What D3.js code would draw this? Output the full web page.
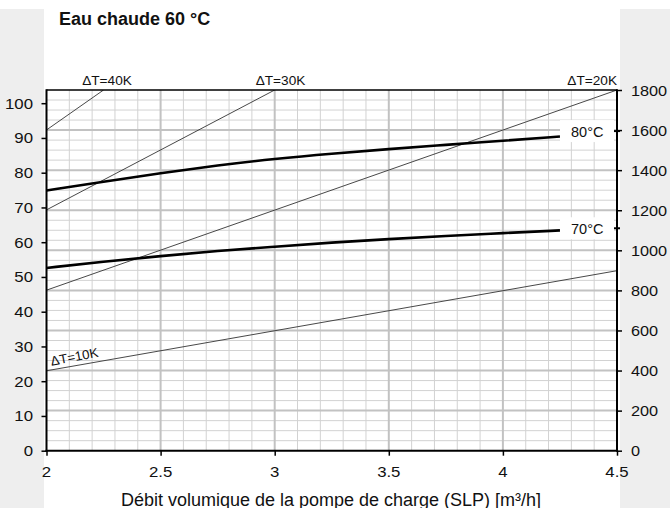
<!DOCTYPE html>
<html>
<head>
<meta charset="utf-8">
<script src="https://cdn.jsdelivr.net/npm/d3@7"></script>
<style>
  html, body { margin: 0; padding: 0; background: #fff; }
  svg { display: block; font-family: "Liberation Sans", Arial, Helvetica, sans-serif; }
</style>
</head>
<body>
<svg id="chart" width="670" height="508"></svg>
<script>
// flow rate [m3/h] vs. power [kW] (left) / [l/h] (right)
var xTicks = [2, 2.5, 3, 3.5, 4, 4.5];
var xTickLabels = ['2', '2.5', '3', '3.5', '4', '4.5'];
var leftTicks = [0, 10, 20, 30, 40, 50, 60, 70, 80, 90, 100];
var rightTicks = [0, 200, 400, 600, 800, 1000, 1200, 1400, 1600, 1800];

// heating curves
var curveFlow = [2.0, 2.25, 2.5, 2.75, 3.0, 3.25, 3.5, 3.75, 4.0, 4.25];
var curve80 = [74.9, 77.4, 79.9, 82.1, 84.0, 85.5, 86.8, 88.0, 89.2, 90.4];
var curve70 = [52.6, 54.4, 56.0, 57.5, 58.7, 59.9, 60.9, 61.8, 62.6, 63.4];
var curveNames = ['80°C', '70°C'];
var curveLabelLevels = [1595, 1110]; // right axis level of the label boxes

// delta T lines: [flow, kW] end points
var dtNames = ['ΔT=10K', 'ΔT=20K', 'ΔT=30K', 'ΔT=40K'];
var dtLines = [
    [[2, 23.0], [4.5, 51.8]],
    [[2, 46.2], [4.5, 103.8]],
    [[2, 69.3], [3.0, 103.8]],
    [[2, 92.3], [2.25, 103.8]]
];

(function() {
    'use strict';

    var svg = d3.select('#chart');
    var pLeft = 46.5, pRight = 617, pTop = 90, pBottom = 450.7;

    var x = d3.scaleLinear().domain([2, 4.5]).range([pLeft, pRight]);
    var yL = d3.scaleLinear().domain([0, 103.8]).range([pBottom, pTop]);
    var yR = d3.scaleLinear().domain([0, 1800]).range([pBottom, pTop]);

    // side strips
    svg.append('rect').attr('x', 0).attr('y', 9).attr('width', 44).attr('height', 499).attr('fill', '#eeeeee');
    svg.append('rect').attr('x', 620).attr('y', 9).attr('width', 50).attr('height', 499).attr('fill', '#eeeeee');

    function label(parent, txt, px, py, opts) {
        opts = opts || {};
        var t = parent.append('text')
            .attr('transform', 'translate(' + px + ',' + py + ')' +
                (opts.rotate ? ' rotate(' + opts.rotate + ')' : '') +
                ' scale(' + (opts.sx || 1) + ',1)')
            .attr('font-size', (opts.size || 14) + 'px')
            .attr('text-anchor', opts.anchor || 'start')
            .attr('fill', '#111')
            .text(txt);
        if (opts.weight) { t.attr('font-weight', opts.weight); }
        return t;
    }

    // grid
    var grid = svg.append('g');
    var minorX = d3.range(20, 46).map(function(d) { return d / 10; })
        .filter(function(d) { return Math.round(d * 10) % 5 !== 0; });
    var majorX = [2.5, 3, 3.5, 4];
    var minorY = d3.range(50, 1800, 50).filter(function(d) { return d % 200 !== 0; });
    var majorY = d3.range(200, 1800, 200);

    function vLines(vals, color, w) {
        grid.append('g').selectAll('line').data(vals).enter().append('line')
            .attr('x1', function(d) { return x(d); }).attr('x2', function(d) { return x(d); })
            .attr('y1', pTop).attr('y2', pBottom)
            .attr('stroke', color).attr('stroke-width', w);
    }
    function hLines(vals, color, w) {
        grid.append('g').selectAll('line').data(vals).enter().append('line')
            .attr('x1', pLeft).attr('x2', pRight)
            .attr('y1', function(d) { return yR(d); }).attr('y2', function(d) { return yR(d); })
            .attr('stroke', color).attr('stroke-width', w);
    }
    vLines(minorX, '#d2d2d2', 1);
    hLines(minorY, '#d2d2d2', 1);
    vLines(majorX, '#c2c2c2', 2);
    hLines(majorY, '#c2c2c2', 2);

    // clip for delta T lines
    svg.append('clipPath').attr('id', 'plotclip').append('rect')
        .attr('x', pLeft).attr('y', pTop).attr('width', pRight - pLeft).attr('height', pBottom - pTop);

    var line = d3.line().x(function(d) { return x(d[0]); }).y(function(d) { return yL(d[1]); });

    svg.append('g').attr('clip-path', 'url(#plotclip)')
        .selectAll('path').data(dtLines).enter().append('path')
        .attr('d', line)
        .attr('fill', 'none').attr('stroke', '#333').attr('stroke-width', 0.9);

    // curves
    var curveLine = d3.line().curve(d3.curveBasis)
        .x(function(d, i) { return x(curveFlow[i]); })
        .y(function(d) { return yL(d); });
    svg.append('g').selectAll('path').data([curve80, curve70]).enter().append('path')
        .attr('d', curveLine)
        .attr('fill', 'none').attr('stroke', '#000').attr('stroke-width', 2.6);

    // curve labels on white boxes
    curveNames.forEach(function(name, i) {
        var cy = yR(curveLabelLevels[i]);
        svg.append('rect').attr('x', 560).attr('y', cy - 11).attr('width', 54).attr('height', 22).attr('fill', '#fff');
        label(svg, name, 571, cy + 5.5, { size: 14.5 });
        svg.append('line').attr('x1', pRight - 3).attr('x2', pRight + 3).attr('y1', cy).attr('y2', cy)
            .attr('stroke', '#000').attr('stroke-width', 2);
    });

    // frame / axes
    svg.append('line').attr('x1', pLeft).attr('x2', pRight).attr('y1', pTop).attr('y2', pTop)
        .attr('stroke', '#000').attr('stroke-width', 1.5);
    svg.append('line').attr('x1', pLeft).attr('x2', pLeft).attr('y1', pTop - 0.75).attr('y2', pBottom + 1)
        .attr('stroke', '#000').attr('stroke-width', 2);
    svg.append('line').attr('x1', pRight).attr('x2', pRight).attr('y1', pTop - 0.75).attr('y2', pBottom + 1)
        .attr('stroke', '#000').attr('stroke-width', 2);
    svg.append('line').attr('x1', pLeft - 1).attr('x2', pRight + 1).attr('y1', pBottom).attr('y2', pBottom)
        .attr('stroke', '#000').attr('stroke-width', 2);

    var axisL = svg.append('g').attr('transform', 'translate(' + pLeft + ',0)')
        .call(d3.axisLeft(yL).tickValues(leftTicks).tickSize(5).tickFormat(''));
    var axisR = svg.append('g').attr('transform', 'translate(' + pRight + ',0)')
        .call(d3.axisRight(yR).tickValues(rightTicks).tickSize(5).tickFormat(''));
    var axisB = svg.append('g').attr('transform', 'translate(0,' + pBottom + ')')
        .call(d3.axisBottom(x).tickValues(xTicks).tickSize(5).tickFormat(''));
    [axisL, axisR, axisB].forEach(function(a) {
        a.select('.domain').remove();
        a.selectAll('line').attr('stroke', '#000').attr('stroke-width', 1.5);
    });

    leftTicks.forEach(function(v) {
        label(svg, String(v), 33, yL(v) + 5.5, { size: 15, anchor: 'end', sx: 1.12 });
    });
    rightTicks.forEach(function(v) {
        label(svg, String(v), 631, yR(v) + 5.5, { size: 15.5, sx: 1.05 });
    });
    xTicks.forEach(function(v, i) {
        label(svg, xTickLabels[i], x(v), 476.5, { size: 15, anchor: 'middle', sx: 1.12 });
    });

    // delta T labels
    label(svg, dtNames[3], 107, 84.5, { size: 13, anchor: 'middle', sx: 1.05 });
    label(svg, dtNames[2], 280.5, 84.5, { size: 13, anchor: 'middle', sx: 1.05 });
    label(svg, dtNames[1], 617, 84.5, { size: 13, anchor: 'end', sx: 1.05 });
    var p0 = dtLines[0][0], p1 = dtLines[0][1];
    var ang = Math.atan2(yL(p1[1]) - yL(p0[1]), x(p1[0]) - x(p0[0])) * 180 / Math.PI;
    label(svg, dtNames[0], x(2) + 5, yL(p0[1]) - 5, { size: 13, rotate: ang - 1, sx: 1.02 });

    // titles
    label(svg, 'Eau chaude 60 °C', 59, 24.5, { size: 18, weight: 'bold' });
    label(svg, 'Débit volumique de la pompe de charge (SLP) [m³/h]', 331, 505.5, { size: 18, anchor: 'middle' });
})();
</script>
</body>
</html>
